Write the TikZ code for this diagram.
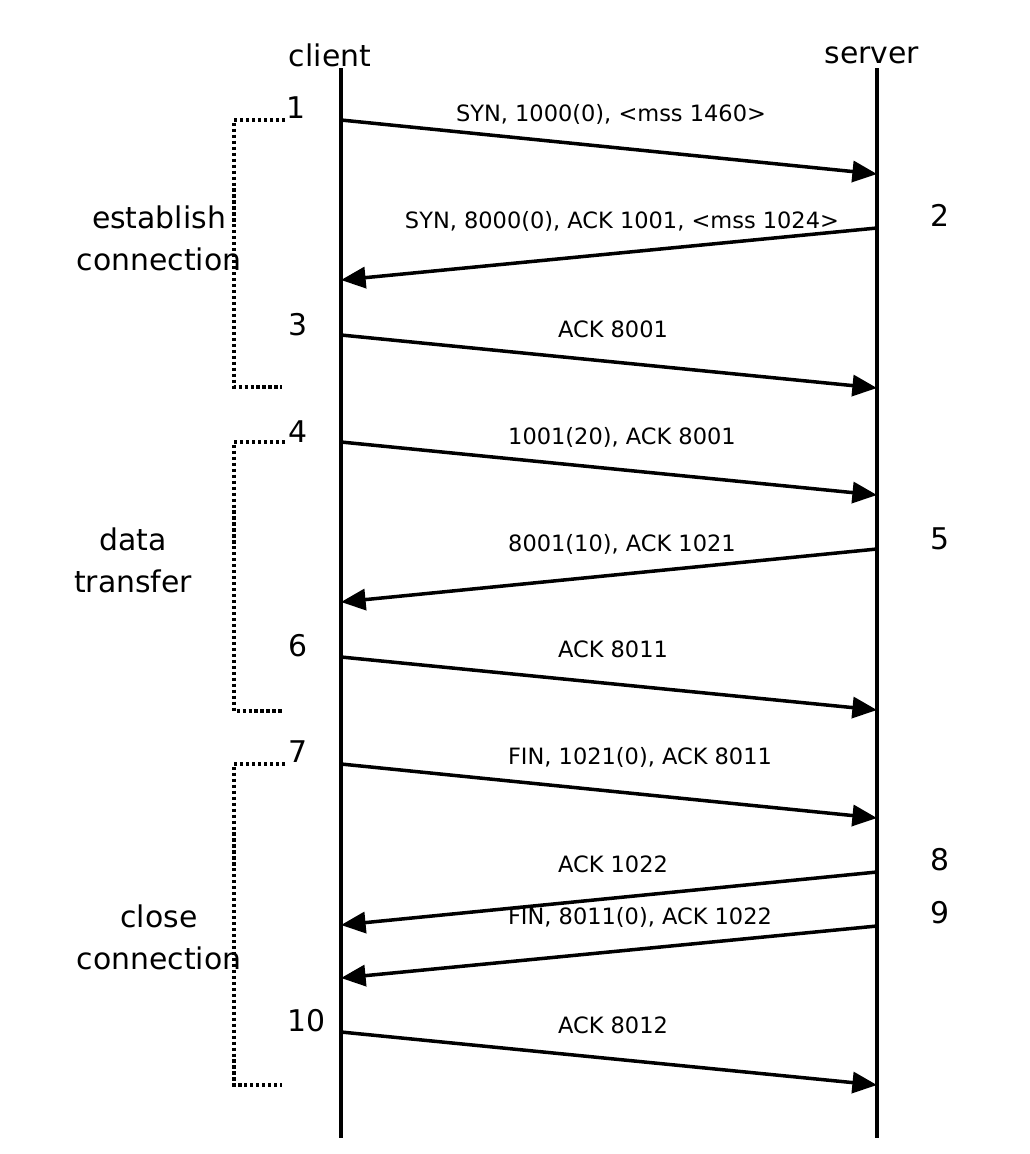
\documentclass[tikz,border=0pt]{standalone}
\usepackage{fontspec}
\setmainfont{DejaVu Sans}
\usetikzlibrary{arrows.meta}
\begin{document}
\begin{tikzpicture}[x=0.02cm, y=-0.02cm,
  lifeline/.style={line width=2.1pt},
  msg/.style={line width=2pt, -{Triangle[length=14pt, width=12pt]}},
  msglabel/.style={font=\fontsize{12.8}{14}\selectfont, inner sep=0pt},
  biglabel/.style={font=\fontsize{17}{24}\selectfont, inner sep=0pt, align=center},
  phase/.style={line width=2.3pt, dash pattern=on 1.8pt off 1.6pt, line cap=butt}]
\useasboundingbox (0,0) rectangle (1030,1154);

% lifelines
\node[biglabel] (client) at (330,55) {client};
\node[biglabel] (server) at (872,55) {server};
\coordinate (ctop) at (341,68);
\coordinate (cbot) at (341,1138);
\coordinate (stop) at (877,68);
\coordinate (sbot) at (877,1138);
\draw[lifeline] (ctop) -- (cbot);
\draw[lifeline] (stop) -- (sbot);

% message end points
\foreach \n/\cy/\sy in {1/120/174, 2/280/228, 3/335/388, 4/442/495, 5/602/549,
                        6/657/710, 7/764/818, 8/925/872, 9/978/926, 10/1032/1085} {
  \coordinate (c\n) at (341,\cy);
  \coordinate (s\n) at (877,\sy);
}

% client to server
\draw[msg] (c1) -- (s1);
\draw[msg] (c3) -- (s3);
\draw[msg] (c4) -- (s4);
\draw[msg] (c6) -- (s6);
\draw[msg] (c7) -- (s7);
\draw[msg] (c10) -- (s10);
% server to client
\draw[msg] (s2) -- (c2);
\draw[msg] (s5) -- (c5);
\draw[msg] (s8) -- (c8);
\draw[msg] (s9) -- (c9);

% message labels
\node[msglabel] (l1) at (611,114) {SYN, 1000(0), <mss 1460>};
\node[msglabel] (l2) at (622,221) {SYN, 8000(0), ACK 1001, <mss 1024>};
\node[msglabel] (l3) at (613,329) {ACK 8001};
\node[msglabel] (l4) at (622,437) {1001(20), ACK 8001};
\node[msglabel] (l5) at (622,544) {8001(10), ACK 1021};
\node[msglabel] (l6) at (613,649) {ACK 8011};
\node[msglabel] (l7) at (640,757) {FIN, 1021(0), ACK 8011};
\node[msglabel] (l8) at (613,864) {ACK 1022};
\node[msglabel] (l9) at (640,917) {FIN, 8011(0), ACK 1022};
\node[msglabel] (l10) at (613,1025) {ACK 8012};

% step numbers
\node[biglabel] (n1) at (296,108) {1};
\node[biglabel] (n2) at (940,215) {2};
\node[biglabel] (n3) at (298,325) {3};
\node[biglabel] (n4) at (298,432) {4};
\node[biglabel] (n5) at (940,539) {5};
\node[biglabel] (n6) at (298,646) {6};
\node[biglabel] (n7) at (298,752) {7};
\node[biglabel] (n8) at (940,860) {8};
\node[biglabel] (n9) at (940,913) {9};
\node[biglabel] (n10) at (307,1021) {10};

% connection phases
\coordinate (p1a) at (285,120);  \coordinate (p1b) at (282,387);
\coordinate (p2a) at (285,442);  \coordinate (p2b) at (282,711);
\coordinate (p3a) at (285,764);  \coordinate (p3b) at (282,1085);
\draw[phase] (p1a) -| (234,387) -- (p1b);
\draw[phase] (p2a) -| (234,711) -- (p2b);
\draw[phase] (p3a) -| (234,1085) -- (p3b);

\node[biglabel] (est) at (159,238) {establish\\connection};
\node[biglabel] (data) at (133,560) {data\\transfer};
\node[biglabel] (close) at (159,937) {close\\connection};
\end{tikzpicture}
\end{document}
